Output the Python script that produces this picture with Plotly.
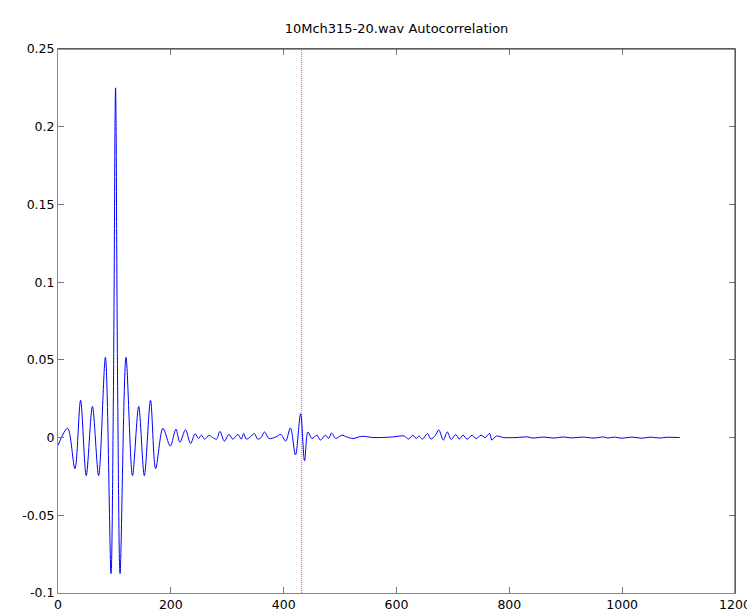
import plotly.graph_objects as go

# ---- data ----
title_text = "10Mch315-20.wav Autocorrelation"

lags = [0, 17, 30, 40, 50, 61, 72, 84, 94, 98, 100, 101, 102, 103, 104, 106, 110,
        120.5, 132, 143, 153, 164, 173, 186, 199, 209, 216, 226, 235, 243, 249, 254,
        260, 268, 274, 281, 287, 295, 303, 310, 319, 325, 329, 334, 341, 348, 354,
        360, 366, 374, 386, 395, 403.5, 412, 421, 430, 437, 443, 450, 459, 465, 474,
        480, 485, 492, 503, 512, 523, 538, 560, 590, 614, 621, 629, 635, 640, 646,
        655, 661, 669, 675, 683, 690, 697, 705, 711, 718, 725, 734, 741, 750, 757,
        765, 769, 777, 790, 810, 833, 840, 860, 880, 895, 910, 930, 950, 967, 975,
        985, 1000, 1017, 1035, 1050, 1066, 1080, 1102]

acorr = [-0.005, 0.006, -0.020, 0.024, -0.0245, 0.020, -0.0245, 0.0516, -0.0875,
         0.02, 0.13, 0.2, 0.225, 0.2, 0.13, 0.02, -0.0875,
         0.0516, -0.0245, 0.020, -0.0245, 0.024, -0.020, 0.006, -0.0055, 0.0054,
         -0.003, 0.005, -0.0038, 0.0025, -0.0006, 0.0015,
         -0.001, 0.0015, 0.0, -0.001, 0.004, -0.0023, 0.002, -0.001, 0.002, -0.001,
         0.0026, -0.001, 0.0005, 0.0026, -0.001,
         0.0, 0.0036, -0.0006, 0.0004, 0.002, -0.0023, 0.0062, -0.0112, 0.0154,
         -0.015, 0.0036, -0.0006, 0.0015, -0.0016, 0.0015,
         -0.0005, 0.003, -0.0006, 0.0015, 0.0004, -0.0006, 0.0008, 0.0, 0.0003,
         0.001, -0.001, 0.0015, -0.0006, 0.001, -0.001,
         0.0026, -0.001, 0.0015, 0.0049, -0.0016, 0.0036, -0.0012, 0.002, -0.001,
         0.0015, -0.001, 0.0015, -0.0006, 0.0015, 0.0,
         0.0026, -0.0016, 0.001, 0.0, 0.0, 0.0004, -0.0003, 0.0003, -0.0003,
         0.0004, -0.0002, 0.0003, -0.0003, 0.0004, -0.0003,
         0.0003, -0.0004, 0.0003, -0.0004, 0.0003, -0.0003, 0.0002, 0.0]

marker_lag = 432

x_ticks = [0, 200, 400, 600, 800, 1000, 1200]
y_ticks = [-0.1, -0.05, 0, 0.05, 0.1, 0.15, 0.2, 0.25]
y_tick_labels = ["-0.1", "-0.05", "0", "0.05", "0.1", "0.15", "0.2", "0.25"]

x_range = [0, 1200]
y_range = [-0.1, 0.25]

# ---- figure ----
fig = go.Figure()

# dotted multi-coloured marker line
dot_colors = ["#ff40c0", "#e03030", "#40b0e0", "#a060ff"]
span = y_range[1] - y_range[0]
for i, c in enumerate(dot_colors):
    off = span * (i * 2.0 / 548.0)
    fig.add_trace(go.Scatter(
        x=[marker_lag, marker_lag], y=[y_range[0] + off, y_range[1]],
        mode="lines", line=dict(color=c, width=1, dash="1px,7px"),
        hoverinfo="skip", showlegend=False))

fig.add_trace(go.Scatter(
    x=lags, y=acorr, mode="lines",
    line=dict(color="#0000ff", width=1, shape="spline", smoothing=0.9),
    showlegend=False))

font_family = "DejaVu Sans, Liberation Sans, Arial, sans-serif"

fig.update_layout(
    width=755, height=616,
    margin=dict(l=50, r=21, t=41, b=27),
    paper_bgcolor="white", plot_bgcolor="white",
    font=dict(family=font_family, size=12.5, color="black"),
    title=dict(text=title_text, x=0.5, xref="paper", xanchor="center",
               y=1 - 20 / 616, yref="container", yanchor="middle",
               font=dict(family=font_family, size=13, color="black")),
    showlegend=False,
)

fig.update_xaxes(
    range=x_range, tickvals=x_ticks, ticks="inside", ticklen=6,
    tickcolor="#777777", showline=True, linecolor="#888888", linewidth=1,
    mirror="ticks", showgrid=False, zeroline=False,
)
fig.update_yaxes(
    range=y_range, tickvals=y_ticks, ticktext=y_tick_labels, ticks="inside",
    ticklen=6, tickcolor="#777777", showline=True, linecolor="#888888",
    linewidth=1, mirror="ticks", showgrid=False, zeroline=False,
)

# darker top and right frame edges
fig.add_shape(type="line", xref="paper", yref="paper", x0=0, x1=1, y0=1, y1=1,
              line=dict(color="#333333", width=1))
fig.add_shape(type="line", xref="paper", yref="paper", x0=1, x1=1, y0=0, y1=1,
              line=dict(color="#333333", width=1))

fig.write_html("out.html")
